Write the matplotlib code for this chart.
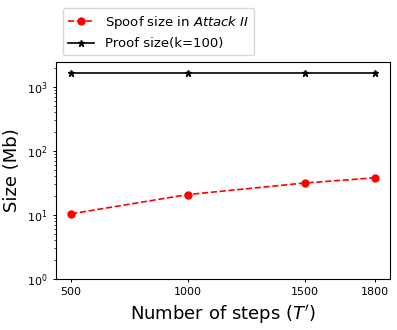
import numpy as np
import matplotlib.pyplot as plt

steps = [500, 1000, 1500, 1800]
spoof_size = [10.4, 20.8, 31.5, 38.0]
proof_size = [1650, 1650, 1650, 1650]

fig = plt.figure(figsize=(3.97, 3.30), dpi=100)
ax = fig.add_axes([0.141, 0.155, 0.842, 0.657])

ax.plot(steps, spoof_size, 'r--o', lw=1.2, ms=5, label=r"Spoof size in $\it{Attack\ II}$")
ax.plot(steps, proof_size, 'k-*', lw=1.2, ms=5, label="Proof size(k=100)")

ax.set_yscale('log')
ax.set_ylim(1, 2450)
ax.set_xticks(steps)
ax.tick_params(labelsize=8, length=2.5, width=0.7)
ax.tick_params(which='minor', length=1.5, width=0.5)
for s in ax.spines.values():
    s.set_linewidth(0.8)
ax.set_xlabel(r"Number of steps ($T'$)", fontsize=13)
ax.set_ylabel("Size (Mb)", fontsize=13)
ax.legend(loc='lower left', bbox_to_anchor=(0.0, 1.0), fontsize=9.5)

fig.savefig("out.png", dpi=100)
